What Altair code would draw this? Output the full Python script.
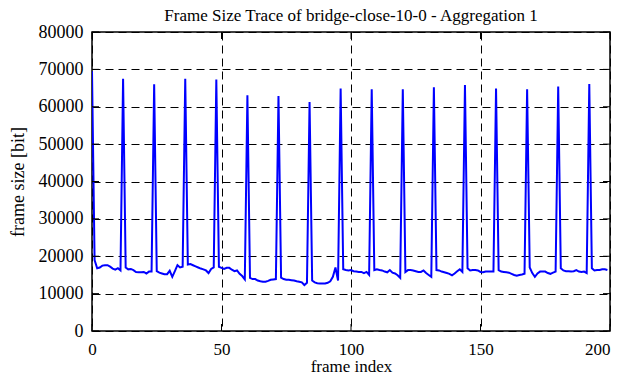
import altair as alt
import pandas as pd

frames = list(range(200))
frame_size = [
    69500,
    19000, 16800, 17000, 17500, 17600, 17600, 17200, 16700, 16400, 16800, 16200,
    67500,
    17000, 16500, 16600, 16300, 15800, 15700, 15700, 15800, 15400, 15900, 15900,
    66000,
    16000, 15600, 15400, 15200, 15200, 16100, 14500, 16000, 17600, 17000, 17200,
    67500,
    17800, 17900, 17600, 17300, 17000, 16700, 16500, 16200, 15500, 16600, 17000,
    67300,
    17200, 16900, 16600, 16900, 16900, 16400, 16000, 16200, 15300, 14700, 13800,
    63100,
    14200, 13900, 13900, 13500, 13300, 13200, 13200, 13400, 13700, 13800, 13900,
    62900,
    14300, 13900, 13700, 13700, 13600, 13500, 13300, 13200, 13000, 12300, 12900,
    61300,
    13500, 13000, 12800, 12700, 12700, 12700, 12900, 13300, 14500, 17000, 13500,
    64900,
    16500, 16300, 16200, 16300, 16000, 15900, 15800, 15800, 15500, 15800, 15000,
    64700,
    16300, 16500, 16300, 16200, 15900, 15700, 16300, 15600, 15400, 14900, 14200,
    64700,
    15800, 16300, 16300, 16200, 16000, 15800, 15800, 16200, 15500, 15000, 14500,
    65200,
    16300, 16200, 15900, 15700, 15500, 15300, 14900, 15400, 16000, 16500, 15800,
    65800,
    16800, 16200, 16300, 16300, 16200, 15800, 15700, 15900, 15900, 15900, 15900,
    64900,
    16300, 15900, 15800, 15700, 15600, 15300, 15000, 14800, 15000, 15100, 15300,
    64700,
    17000, 15500, 14500, 15400, 15900, 15900, 15900, 15500, 15300, 15600, 15900,
    65400,
    16800, 16200, 16000, 16000, 15900, 16000, 16300, 15900, 15800, 15900, 15500,
    66100,
    16800, 16200, 16300, 16300, 16500, 16500, 16300,
]
x_ticks = [0, 50, 100, 150, 200]
y_ticks = [0, 10000, 20000, 30000, 40000, 50000, 60000, 70000, 80000]

FONT = "Liberation Serif"
W, H = 518, 299

df = pd.DataFrame({"frame": frames, "size": frame_size})
xt = pd.DataFrame({"frame": x_ticks})
yt = pd.DataFrame({"size": y_ticks})

xscale = alt.Scale(domain=[0, 200], nice=False)
yscale = alt.Scale(domain=[0, 80000], nice=False)
xaxis = alt.Axis(values=x_ticks, title="frame index", format="d",
                 labelAlign=alt.ExprRef(expr="datum.value == 200 ? 'right' : 'center'"))
yaxis = alt.Axis(values=y_ticks, title="frame size [bit]", format="d")

line = alt.Chart(df).mark_line(color="#0000ff", strokeWidth=2, clip=True).encode(
    x=alt.X("frame:Q", scale=xscale, axis=xaxis),
    y=alt.Y("size:Q", scale=yscale, axis=yaxis),
)

tick_bottom = alt.Chart(xt).mark_rule(color="black", strokeWidth=1).encode(
    x=alt.X("frame:Q", scale=xscale, axis=xaxis), y=alt.value(H), y2=alt.value(H - 7))
tick_top = alt.Chart(xt).mark_rule(color="black", strokeWidth=1).encode(
    x=alt.X("frame:Q", scale=xscale, axis=xaxis), y=alt.value(0), y2=alt.value(7))
tick_left = alt.Chart(yt).mark_rule(color="black", strokeWidth=1).encode(
    y=alt.Y("size:Q", scale=yscale, axis=yaxis), x=alt.value(0), x2=alt.value(7))
tick_right = alt.Chart(yt).mark_rule(color="black", strokeWidth=1).encode(
    y=alt.Y("size:Q", scale=yscale, axis=yaxis), x=alt.value(W - 7), x2=alt.value(W))

chart = alt.layer(line, tick_bottom, tick_top, tick_left, tick_right).properties(
    width=W,
    height=H,
    background="white",
    title=alt.TitleParams(
        text="Frame Size Trace of bridge-close-10-0 - Aggregation 1",
        font=FONT, fontSize=17, fontWeight="normal", color="black",
        offset=0, dy=2,
    ),
    autosize=alt.AutoSizeParams(type="none"),
    padding={"left": 84, "top": 24, "right": 8, "bottom": 43},
).configure_view(
    stroke="black", strokeWidth=1.5
).configure_axis(
    grid=True, gridColor="black", gridDash=[8, 5], gridWidth=1, gridOpacity=1,
    domain=False, ticks=False, labelFlush=False,
    labelFont=FONT, labelFontSize=18, labelColor="black", labelPadding=9,
    titleFont=FONT, titleFontSize=18, titleFontWeight="normal", titleColor="black",
).configure_axisX(
    labelPadding=10, labelFontSize=17, titleFontSize=17, titleY=27, titleBaseline="top"
).configure_axisY(
    titlePadding=11
)

chart.save("out.html", embed_options={"renderer": "svg", "actions": False})
